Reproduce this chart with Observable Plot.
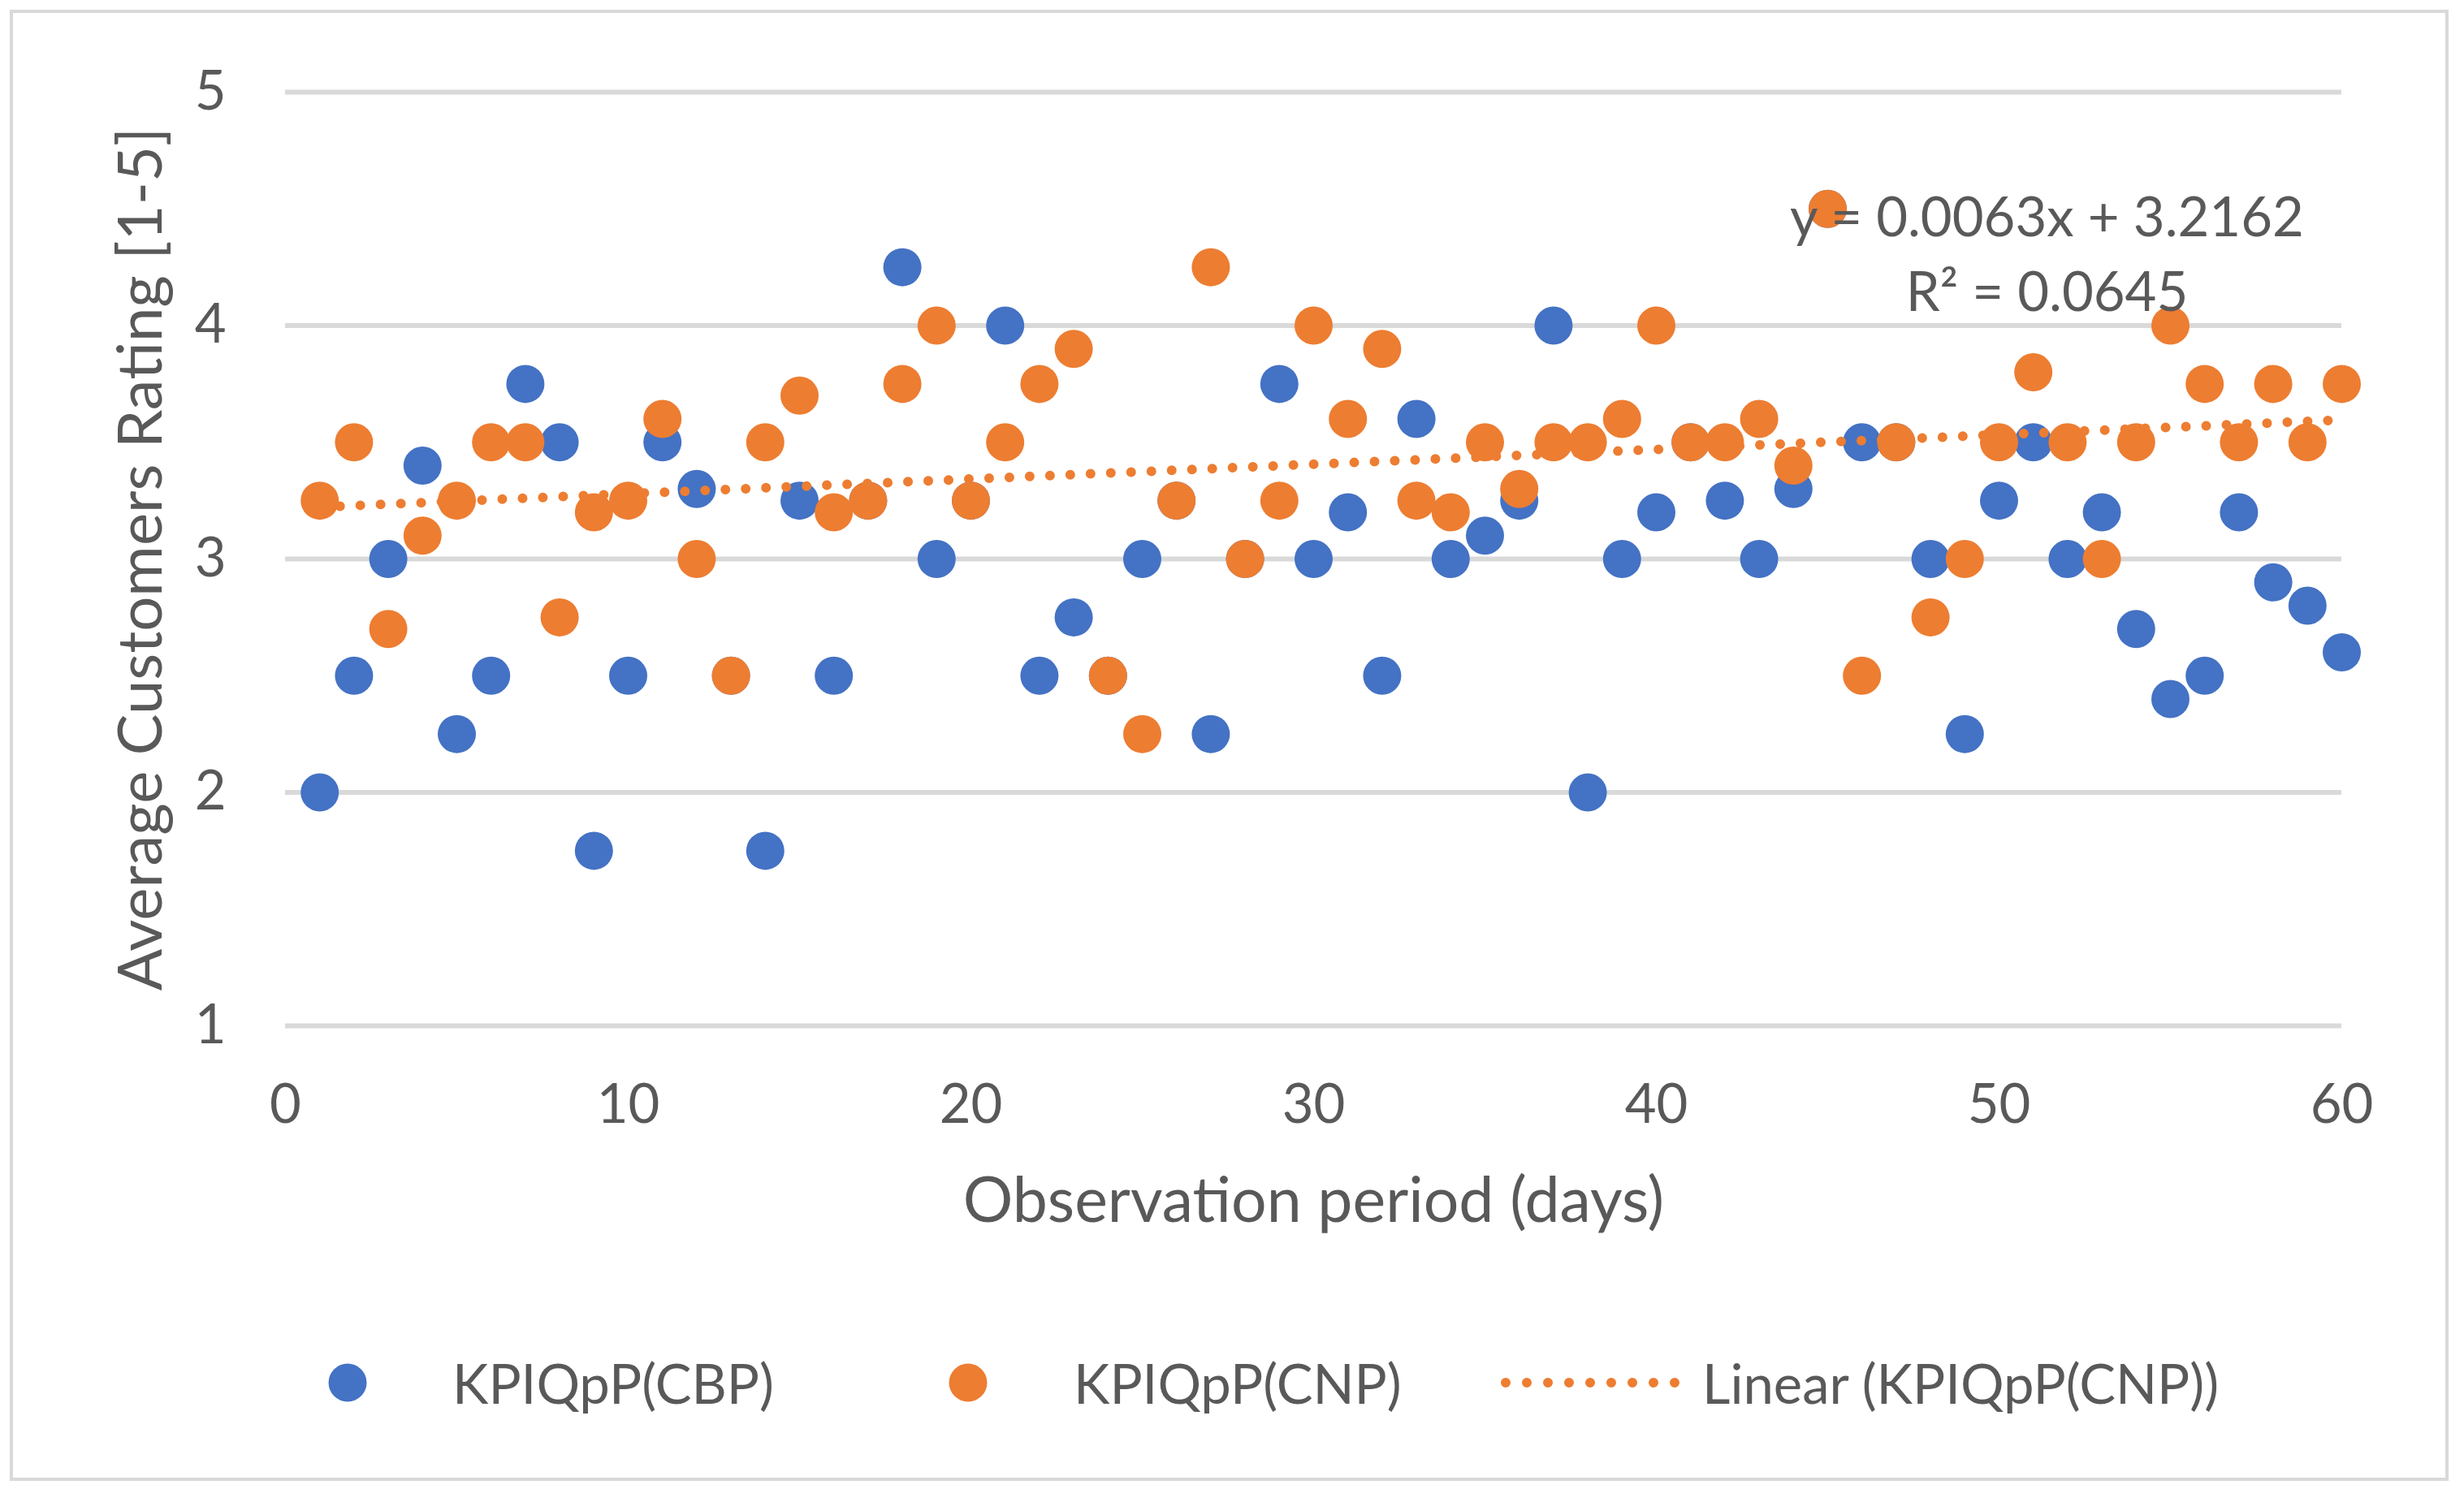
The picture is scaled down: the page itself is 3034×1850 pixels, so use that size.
<!DOCTYPE html>
<html>
<head>
<meta charset="utf-8">
<script src="https://cdn.jsdelivr.net/npm/d3@7"></script>
<script src="https://cdn.jsdelivr.net/npm/@observablehq/plot@0.6"></script>
<style>
  html, body { margin: 0; padding: 0; background: #ffffff; }
  #wrap { position: relative; width: 3034px; height: 1850px; overflow: hidden; background: #ffffff; font-family: Lato, "Open Sans", sans-serif; color: #595959; }
  #frame { position: absolute; left: 12px; top: 12px; width: 3003px; height: 1812px; box-sizing: border-box; border: 4px solid #d9d9d9; }
  #chart { position: absolute; left: 0; top: 0; }
  .lgText { position: absolute; font-size: 67px; line-height: 1; transform: translateY(-50%); white-space: nowrap; color: #595959; }
  .lgDot { position: absolute; width: 47px; height: 47px; border-radius: 50%; transform: translate(-50%, -50%); }
</style>
</head>
<body>
<div id="wrap">
  <div id="frame"></div>
  <div id="chart"></div>
  <div id="legend"></div>
</div>
<script>
// ---- data ----
const days = d3.range(1, 61);
const cbp = [2.0, 2.5, 3.0, 3.4, 2.25, 2.5, 3.75, 3.5, 1.75, 2.5,
             3.5, 3.3, 2.5, 1.75, 3.25, 2.5, 3.25, 4.25, 3.0, 3.25,
             4.0, 2.5, 2.75, 2.5, 3.0, 3.25, 2.25, 3.0, 3.75, 3.0,
             3.2, 2.5, 3.6, 3.0, 3.1, 3.25, 4.0, 2.0, 3.0, 3.2,
             3.5, 3.25, 3.0, 3.3, 4.5, 3.5, 3.5, 3.0, 2.25, 3.25,
             3.5, 3.0, 3.2, 2.7, 2.4, 2.5, 3.2, 2.9, 2.8, 2.6];
const cnp = [3.25, 3.5, 2.7, 3.1, 3.25, 3.5, 3.5, 2.75, 3.2, 3.25,
             3.6, 3.0, 2.5, 3.5, 3.7, 3.2, 3.25, 3.75, 4.0, 3.25,
             3.5, 3.75, 3.9, 2.5, 2.25, 3.25, 4.25, 3.0, 3.25, 4.0,
             3.6, 3.9, 3.25, 3.2, 3.5, 3.3, 3.5, 3.5, 3.6, 4.0,
             3.5, 3.5, 3.6, 3.4, 4.5, 2.5, 3.5, 2.75, 3.0, 3.5,
             3.8, 3.5, 3.0, 3.5, 4.0, 3.75, 3.5, 3.75, 3.5, 3.75];
const xTicks = [0, 10, 20, 30, 40, 50, 60];
const yTicks = [1, 2, 3, 4, 5];
const seriesNames = ["KPIQpP(CBP)", "KPIQpP(CNP)", "Linear (KPIQpP(CNP))"];
const seriesColors = ["#4472C4", "#ED7D31", "#ED7D31"];
const xTitle = "Observation period (days)";
const yTitle = "Average Customers Rating [1-5]";
const equationText = "y = 0.0063x + 3.2162\nR\u00B2 = 0.0645";

// ---- tables ----
const cbpRows = days.map((d, i) => ({day: d, rating: cbp[i]}));
const cnpRows = days.map((d, i) => ({day: d, rating: cnp[i]}));

const textColor = "#595959";
const gridColor = "#d9d9d9";

const plot = Plot.plot({
  width: 3034,
  height: 1600,
  marginLeft: 351,
  marginRight: 151,
  marginTop: 113,
  marginBottom: 337,
  style: {fontFamily: "Lato, 'Open Sans', sans-serif", fontSize: "67px", color: textColor, background: "transparent", overflow: "visible"},
  x: {domain: [0, 60]},
  y: {domain: [1, 5]},
  marks: [
    Plot.gridY(yTicks, {stroke: gridColor, strokeWidth: 6, strokeOpacity: 1}),
    Plot.axisY({ticks: yTicks, tickFormat: d3.format("d"), tickSize: 0, tickPadding: 73, label: null, fill: textColor}),
    Plot.axisX({ticks: xTicks, tickFormat: d3.format("d"), tickSize: 0, tickPadding: 72, label: null, fill: textColor}),
    Plot.dot(cbpRows, {x: "day", y: "rating", r: 23.5, fill: seriesColors[0], stroke: "none"}),
    Plot.dot(cnpRows, {x: "day", y: "rating", r: 23.5, fill: seriesColors[1], stroke: "none"}),
    Plot.linearRegressionY(cnpRows, {x: "day", y: "rating", ci: 0, stroke: seriesColors[2], strokeWidth: 12, strokeDasharray: "0 25", strokeLinecap: "round"}),
    Plot.text([xTitle], {text: d => d, frameAnchor: "bottom", dy: 217, lineAnchor: "middle", fontSize: 77, fill: textColor}),
    Plot.text([yTitle], {text: d => d, frameAnchor: "left", dx: -177, rotate: -90, lineAnchor: "middle", textAnchor: "middle", fontSize: 76, fill: textColor}),
    Plot.text([equationText], {text: d => d, frameAnchor: "top-right", dx: -363, dy: 112, lineAnchor: "top", textAnchor: "middle", lineHeight: 1.373, fontSize: 67, fill: textColor})
  ]
});
document.getElementById("chart").appendChild(plot);

// ---- legend (below the plot) ----
const legend = document.getElementById("legend");
const legendY = 1703;
const items = [
  {kind: "dot", mx: 428, tx: 557},
  {kind: "dot", mx: 1192, tx: 1322},
  {kind: "line", mx: 1854, tx: 2096}
];
items.forEach((it, i) => {
  if (it.kind === "dot") {
    const dot = document.createElement("div");
    dot.className = "lgDot";
    dot.style.left = it.mx + "px";
    dot.style.top = legendY + "px";
    dot.style.background = seriesColors[i];
    legend.appendChild(dot);
  } else {
    const svgNS = "http://www.w3.org/2000/svg";
    const s = document.createElementNS(svgNS, "svg");
    s.setAttribute("width", 240);
    s.setAttribute("height", 30);
    s.style.position = "absolute";
    s.style.left = (it.mx - 10) + "px";
    s.style.top = (legendY - 15) + "px";
    const ln = document.createElementNS(svgNS, "line");
    ln.setAttribute("x1", 10);
    ln.setAttribute("x2", 223);
    ln.setAttribute("y1", 15);
    ln.setAttribute("y2", 15);
    ln.setAttribute("stroke", seriesColors[i]);
    ln.setAttribute("stroke-width", 12);
    ln.setAttribute("stroke-dasharray", "0 26");
    ln.setAttribute("stroke-linecap", "round");
    s.appendChild(ln);
    legend.appendChild(s);
  }
  const t = document.createElement("div");
  t.className = "lgText";
  t.style.left = it.tx + "px";
  t.style.top = legendY + "px";
  t.textContent = seriesNames[i];
  legend.appendChild(t);
});
</script>
</body>
</html>
